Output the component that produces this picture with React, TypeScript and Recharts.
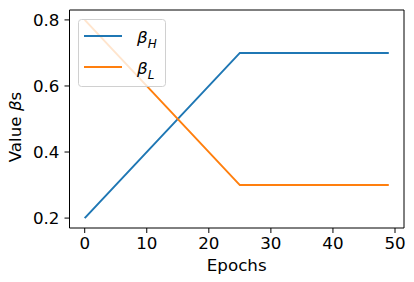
import React from 'react';
import { LineChart, Line, XAxis, YAxis, Legend, ReferenceLine } from 'recharts';

const epochs = [0, 25, 49];
const betaH = [0.2, 0.7, 0.7];
const betaL = [0.8, 0.3, 0.3];
const xTicks = [0, 10, 20, 30, 40, 50];
const yTicks = [0.2, 0.4, 0.6, 0.8];
const xDomain = [-2.45, 51.45];
const yDomain = [0.17, 0.83];

const data = epochs.map((e, i) => ({ epoch: e, betaH: betaH[i], betaL: betaL[i] }));

const FONT = '"DejaVu Sans", sans-serif';
const FS = 16.7;
const BLUE = '#1f77b4';
const ORANGE = '#ff7f0e';

const XTick = (props: any) => (
  <text x={props.x} y={props.y + 15.5} textAnchor="middle" fontFamily={FONT} fontSize={FS} fill="#000">
    {props.payload.value}
  </text>
);

const YTick = (props: any) => (
  <text x={props.x - 5} y={props.y + 6} textAnchor="end" fontFamily={FONT} fontSize={FS} fill="#000">
    {Number(props.payload.value).toFixed(1)}
  </text>
);

const LegendBox = () => (
  <svg width={88} height={68} style={{ display: 'block' }}>
    <rect x={0.5} y={0.5} width={87} height={67} rx={3} ry={3} fill="rgba(255,255,255,0.8)" stroke="#d0d0d0" />
    <line x1={6} x2={44} y1={17} y2={17} stroke={BLUE} strokeWidth={2} />
    <text x={59} y={24} fontFamily={FONT} fontSize={FS} fontStyle="italic" fill="#000">
      β<tspan fontSize={12} dy={5}>H</tspan>
    </text>
    <line x1={6} x2={44} y1={48} y2={48} stroke={ORANGE} strokeWidth={2} />
    <text x={59} y={55} fontFamily={FONT} fontSize={FS} fontStyle="italic" fill="#000">
      β<tspan fontSize={12} dy={5}>L</tspan>
    </text>
  </svg>
);

export default function App() {
  return (
    <div style={{ position: 'absolute', left: 0, top: 0, width: 414, height: 282, background: '#fff' }}>
      <LineChart width={414} height={282} data={data} margin={{ top: 10, right: 10, left: 0, bottom: 0 }}>
        <XAxis
          dataKey="epoch"
          type="number"
          domain={xDomain}
          ticks={xTicks}
          allowDataOverflow
          height={54}
          tickSize={5}
          tickMargin={0}
          stroke="#000"
          tick={<XTick />}
          label={{
            content: () => (
              <text x={236.7} y={271} textAnchor="middle" fontFamily={FONT} fontSize={FS} fill="#000">
                Epochs
              </text>
            ),
          }}
        />
        <YAxis
          type="number"
          domain={yDomain}
          ticks={yTicks}
          allowDataOverflow
          width={69.5}
          tickSize={5}
          tickMargin={0}
          stroke="#000"
          tick={<YTick />}
          label={{
            content: () => (
              <text
                x={21}
                y={127}
                transform="rotate(-90 21 127)"
                textAnchor="middle"
                fontFamily={FONT}
                fontSize={FS}
                fill="#000"
              >
                Value <tspan fontStyle="italic">β</tspan>s
              </text>
            ),
          }}
        />
        <ReferenceLine y={yDomain[1]} stroke="#000" strokeWidth={1} />
        <ReferenceLine x={xDomain[1]} stroke="#000" strokeWidth={1} />
        <Line dataKey="betaH" name="βH" stroke={BLUE} strokeWidth={2} dot={false} type="linear" isAnimationActive={false} />
        <Line dataKey="betaL" name="βL" stroke={ORANGE} strokeWidth={2} dot={false} type="linear" isAnimationActive={false} />
        <Legend
          layout="horizontal"
          verticalAlign="middle"
          align="center"
          content={() => <LegendBox />}
          wrapperStyle={{ left: 78, top: 19, width: 88, height: 68 }}
        />
      </LineChart>
    </div>
  );
}
